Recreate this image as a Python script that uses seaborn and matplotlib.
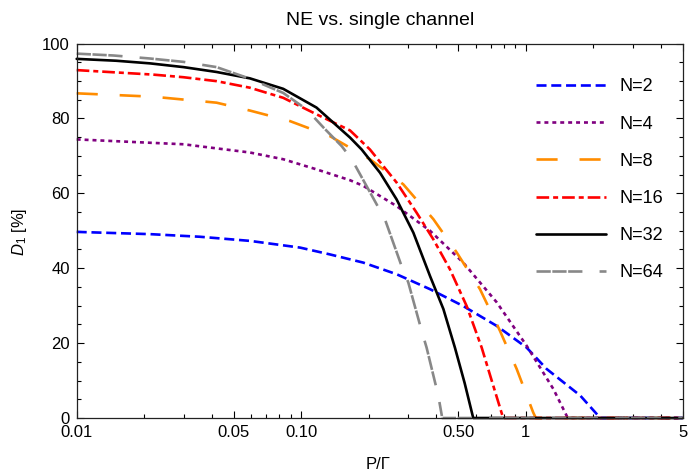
import numpy as np
import pandas as pd
import matplotlib
matplotlib.use("Agg")
import matplotlib.pyplot as plt
import matplotlib.ticker as mticker
import seaborn as sns

# values (x = P/Gamma, y = D1 in %)
x_n2 = [0.01, 0.0212, 0.0354, 0.0591, 0.099, 0.134, 0.189, 0.266, 0.375, 0.527, 0.743, 1.01, 1.24, 1.75, 2.15, 5]
y_n2 = [49.7, 49.1, 48.4, 47.3, 45.5, 43.7, 41.5, 38.4, 34.4, 29.9, 24.6, 18.8, 13.1, 6.0, 0, 0]

x_n4 = [0.01, 0.0212, 0.0299, 0.042, 0.0591, 0.0832, 0.117, 0.165, 0.189, 0.266, 0.375, 0.527, 0.743, 1.01, 1.33, 1.54, 5]
y_n4 = [74.4, 73.5, 73.1, 72.0, 70.9, 69.1, 66.4, 63.5, 62.0, 56.6, 50.0, 41.5, 30.9, 19.3, 7.7, 0, 0]

x_n8 = [0.01, 0.0219, 0.042, 0.0591, 0.089, 0.134, 0.2025, 0.285, 0.388, 0.493, 0.626, 0.768, 0.912, 1.08, 1.11, 5]
y_n8 = [86.7, 85.8, 84.2, 82.1, 79.3, 75.3, 69.1, 62.4, 53.1, 44.2, 34.4, 23.3, 13.1, 1.5, 0, 0]

x_n16 = [0.01, 0.0219, 0.0299, 0.042, 0.0591, 0.0832, 0.117, 0.165, 0.2025, 0.266, 0.327, 0.388, 0.46, 0.546, 0.637, 0.71, 0.794, 5]
y_n16 = [92.9, 91.7, 91.0, 89.95, 88.2, 85.5, 81.1, 76.8, 71.7, 62.9, 54.8, 47.7, 39.7, 29.9, 18.8, 9.5, 0, 0]

x_n32 = [0.01, 0.015, 0.0212, 0.0299, 0.042, 0.0591, 0.0832, 0.117, 0.165, 0.186, 0.2245, 0.266, 0.316, 0.375, 0.43, 0.484, 0.535, 0.584, 5]
y_n32 = [95.9, 95.4, 94.7, 93.7, 92.4, 90.7, 87.9, 82.9, 74.9, 71.7, 65.5, 58.4, 49.5, 37.9, 29.1, 18.8, 9.3, 0, 0]

x_n64 = [0.01, 0.0146, 0.0212, 0.0299, 0.042, 0.0591, 0.0832, 0.1058, 0.126, 0.1515, 0.168, 0.2167, 0.236, 0.28, 0.3, 0.344, 0.362, 0.408, 0.425, 5]
y_n64 = [97.3, 96.8, 96.0, 95.1, 93.7, 90.6, 86.8, 82.4, 77.5, 72.6, 69.1, 57.1, 53.1, 40.6, 36.2, 23.3, 18.8, 6.0, 0, 0]

labels = ["N=2", "N=4", "N=8", "N=16", "N=32", "N=64"]
xs = [x_n2, x_n4, x_n8, x_n16, x_n32, x_n64]
ys = [y_n2, y_n4, y_n8, y_n16, y_n32, y_n64]

colors = ["#0000ff", "#800080", "#ff8c00", "#ff0000", "#000000", "#888888"]
styles = [
    (0, (3.8, 1.8)),
    (0, (1.5, 1.5)),
    (0, (8, 8.3)),
    (0, (4.8, 1.5, 1.9, 1.5)),
    "-",
    (0, (5.4, 0.6, 5.4, 0.6, 5.4, 6.5)),
]

xticks = [0.01, 0.05, 0.1, 0.5, 1, 5]
xticklabels = ["0.01", "0.05", "0.10", "0.50", "1", "5"]

sns.set_style("ticks")
plt.rcParams["font.family"] = ["Liberation Sans", "DejaVu Sans"]
plt.rcParams["mathtext.fontset"] = "custom"
plt.rcParams["mathtext.rm"] = "Liberation Sans"
plt.rcParams["mathtext.it"] = "Liberation Sans:italic"
for k in ["text.color", "axes.labelcolor", "xtick.color", "ytick.color"]:
    plt.rcParams[k] = "black"

fig = plt.figure(figsize=(6.99, 4.71), dpi=100)
ax = fig.add_axes([0.1097, 0.1125, 0.8668, 0.7951])

for xv, yv, lab, c, ls in zip(xs, ys, labels, colors, styles):
    df = pd.DataFrame({"x": xv, "y": yv})
    sns.lineplot(data=df, x="x", y="y", ax=ax, color=c, linestyle=ls, lw=1.9,
                 label=lab, sort=False, estimator=None, clip_on=False)

ax.set_xscale("log")
ax.set_xlim(0.01, 5)
ax.set_ylim(0, 100)
ax.xaxis.set_major_locator(mticker.FixedLocator(xticks))
ax.xaxis.set_major_formatter(mticker.FixedFormatter(xticklabels))
ax.xaxis.set_minor_locator(mticker.LogLocator(base=10, subs=np.arange(2, 10), numticks=20))
ax.xaxis.set_minor_formatter(mticker.NullFormatter())
ax.yaxis.set_major_locator(mticker.MultipleLocator(20))
ax.yaxis.set_minor_locator(mticker.MultipleLocator(5))

ax.tick_params(which="both", direction="in", top=True, right=True, labelsize=12, width=0.8)
ax.tick_params(which="major", length=5, pad=5)
ax.tick_params(which="minor", length=3)
for s in ax.spines.values():
    s.set_linewidth(0.9)
    s.set_color("#222222")

ax.set_title("NE vs. single channel", fontsize=14, pad=13)
ax.set_xlabel("P/Γ", fontsize=12)
ax.set_ylabel("$D_1$ [%]", fontsize=12)
ax.xaxis.set_label_coords(0.497, -0.105)
ax.yaxis.set_label_coords(-0.078, 0.497)

ax.legend(loc="center left", bbox_to_anchor=(0.731, 0.636), frameon=False, fontsize=13,
          handlelength=3.9, handletextpad=0.72, labelspacing=1.12, borderpad=0.4)

fig.savefig("out.png", dpi=100)
